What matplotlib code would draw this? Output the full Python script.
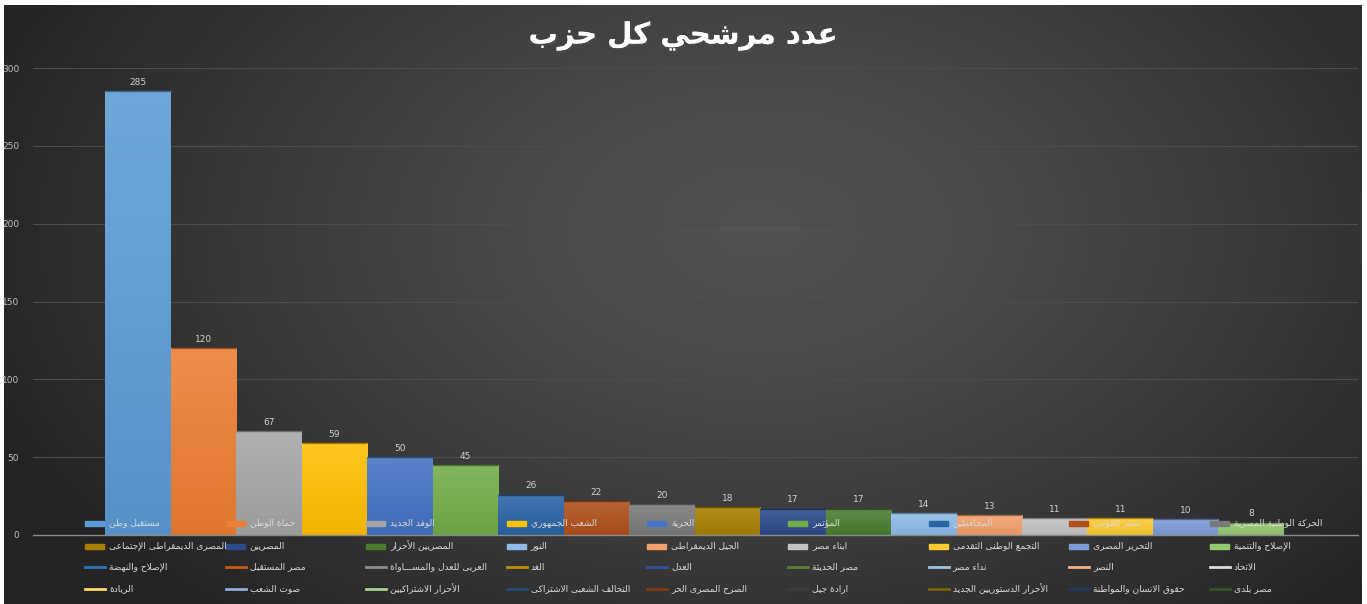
import numpy as np
import matplotlib
matplotlib.use("Agg")
import matplotlib.pyplot as plt
import matplotlib.patheffects as pe
from matplotlib.colors import to_rgb
from matplotlib.patches import Rectangle
from matplotlib.lines import Line2D

# ---- data -------------------------------------------------------------
title = "عدد مرشحي كل حزب"

bar_parties = ["مستقبل وطن", "حماة الوطن", "الوفد الجديد", "الشعب الجمهوري",
               "الحرية", "المؤتمر", "المحافظين", "مصر القومي",
               "الحركة الوطنية المصرية", "المصرى الديمقراطى الإجتماعى",
               "المصريين", "المصريين الأحرار", "النور", "الجيل الديمقراطى",
               "ابناء مصر", "التجمع الوطنى التقدمى", "التحرير المصرى",
               "الإصلاح والتنمية"]
candidates = [285, 120, 67, 59, 50, 45, 26, 22, 20, 18, 17, 17, 14, 13, 11, 11, 10, 8]

line_parties = ["الإصلاح والنهضة", "مصر المستقبل", "العربى للعدل والمســـاواة",
                "الغد", "العدل", "مصر الحديثة", "نداء مصر", "النصر", "الاتحاد",
                "الريادة", "صوت الشعب", "الأحرار الاشتراكيين",
                "التحالف الشعبى الاشتراكى", "الصرح المصرى الحر", "ارادة جيل",
                "الأحرار الدستوريين الجديد", "حقوق الانسان والمواطنة", "مصر بلدى"]

bar_colors = ["#5B9BD5", "#ED7D31", "#A5A5A5", "#FFC000", "#4472C4", "#70AD47",
              "#2A63A6", "#B0501A", "#7A7A7A", "#A87F00", "#2B4B8C", "#4B7D31",
              "#8DBBE8", "#F4A06C", "#C2C2C2", "#FFCB33", "#7B9CD8", "#94C86E"]
line_colors = ["#2E75B6", "#C55A11", "#8C8C8C", "#BF9000", "#2F5597", "#548235",
               "#9DC3E6", "#F4B183", "#DBDBDB", "#FFD966", "#8FAADC", "#A9D18E",
               "#1F4E79", "#843C0C", "#3B3B3B", "#7F6000", "#203864", "#375623"]

yticks = [0, 50, 100, 150, 200, 250, 300]

# ---- minimal arabic shaping (matplotlib has no bidi / shaping) --------
_FORMS = {
    0x0621: (0xFE80, 1), 0x0622: (0xFE81, 2), 0x0623: (0xFE83, 2),
    0x0624: (0xFE85, 2), 0x0625: (0xFE87, 2), 0x0626: (0xFE89, 4),
    0x0627: (0xFE8D, 2), 0x0628: (0xFE8F, 4), 0x0629: (0xFE93, 2),
    0x062A: (0xFE95, 4), 0x062B: (0xFE99, 4), 0x062C: (0xFE9D, 4),
    0x062D: (0xFEA1, 4), 0x062E: (0xFEA5, 4), 0x062F: (0xFEA9, 2),
    0x0630: (0xFEAB, 2), 0x0631: (0xFEAD, 2), 0x0632: (0xFEAF, 2),
    0x0633: (0xFEB1, 4), 0x0634: (0xFEB5, 4), 0x0635: (0xFEB9, 4),
    0x0636: (0xFEBD, 4), 0x0637: (0xFEC1, 4), 0x0638: (0xFEC5, 4),
    0x0639: (0xFEC9, 4), 0x063A: (0xFECD, 4), 0x0641: (0xFED1, 4),
    0x0642: (0xFED5, 4), 0x0643: (0xFED9, 4), 0x0644: (0xFEDD, 4),
    0x0645: (0xFEE1, 4), 0x0646: (0xFEE5, 4), 0x0647: (0xFEE9, 4),
    0x0648: (0xFEED, 2), 0x0649: (0xFEEF, 2), 0x064A: (0xFEF1, 4),
}
_LAM_ALEF = {"\u0622": 0xFEF5, "\u0623": 0xFEF7, "\u0625": 0xFEF9, "\u0627": 0xFEFB}


def ar(s):
    chars = []
    i = 0
    while i < len(s):
        if s[i] == "\u0644" and i + 1 < len(s) and s[i + 1] in _LAM_ALEF:
            chars.append(("LA", s[i + 1]))
            i += 2
        else:
            chars.append(s[i])
            i += 1

    def jt(t):
        if isinstance(t, tuple):
            return 2
        if t == "\u0640":
            return 4
        return _FORMS.get(ord(t), (0, 0))[1]

    out = []
    for k, t in enumerate(chars):
        j = jt(t)
        prv = jt(chars[k - 1]) if k > 0 else 0
        nxt = jt(chars[k + 1]) if k + 1 < len(chars) else 0
        jp = j in (2, 4) and prv == 4
        jn = j == 4 and nxt in (2, 4)
        if isinstance(t, tuple):
            out.append(chr(_LAM_ALEF[t[1]] + (1 if jp else 0)))
        elif j == 0 or t == "\u0640":
            out.append(t)
        else:
            base = _FORMS[ord(t)][0]
            if j == 1:
                out.append(chr(base))
            elif jp and jn:
                out.append(chr(base + 3))
            elif jn:
                out.append(chr(base + 2))
            elif jp:
                out.append(chr(base + 1))
            else:
                out.append(chr(base))
    return "".join(reversed(out))


def mix(c, other, t):
    c = np.array(to_rgb(c))
    return tuple(c + (np.array(other) - c) * t)


# ---- figure -----------------------------------------------------------
plt.rcParams["font.family"] = ["DejaVu Sans"]
W, H = 1367, 604
fig = plt.figure(figsize=(W / 100, H / 100), dpi=100, facecolor="white")

# dark radial background
bg = fig.add_axes([4 / W, 0, (1362 - 4) / W, (H - 5) / H])
gx, gy = np.meshgrid(np.linspace(4, 1362, 400), np.linspace(5, 604, 200))
r = np.sqrt(((gx - 760) / 820) ** 2 + ((gy - 230) / 520) ** 2)
lev = 0x52 - (0x52 - 0x24) * np.clip(r, 0, 1) ** 1.3
img = np.dstack([lev / 255] * 3)
bg.imshow(img, aspect="auto", extent=(0, 1, 0, 1), origin="upper")
bg.set_axis_off()

ax = fig.add_axes([33 / W, (H - 535) / H, (1358 - 33) / W, (535 - 68) / H])
ax.patch.set_alpha(0)

x = np.arange(len(candidates))
bars = ax.bar(x, candidates, width=1.0, color=bar_colors, linewidth=0, zorder=3)
for b, c in zip(bars, bar_colors):
    grad = np.array([mix(c, (0, 0, 0), 0.06), mix(c, (1, 1, 1), 0.12)])
    grad = np.linspace(grad[0], grad[1], 64)[:, None, :]
    im = ax.imshow(grad, extent=(b.get_x(), b.get_x() + b.get_width(), 0, b.get_height()),
                   origin="lower", aspect="auto", zorder=3.5)
    im.set_clip_path(b)
    ax.plot([b.get_x(), b.get_x() + b.get_width()], [b.get_height()] * 2,
            color=mix(c, (0, 0, 0), 0.35), lw=1, zorder=4, solid_capstyle="butt")
    ax.annotate(str(int(b.get_height())), (b.get_x() + b.get_width() / 2, b.get_height()),
                xytext=(0, 3), textcoords="offset points", ha="center", va="bottom",
                fontsize=6.5, color="#d0d0d0", zorder=5)

ax.set_xlim(-1.6, 18.63)
ax.set_ylim(0, 300)
ax.set_yticks(yticks)
ax.set_yticklabels([str(v) for v in yticks], fontsize=6.5, color="#bfbfbf")
ax.tick_params(axis="y", length=0, pad=10)
ax.set_xticks([])
ax.grid(axis="y", color="#4c4c4c", lw=0.8, zorder=0)
for s in ["top", "right", "left"]:
    ax.spines[s].set_visible(False)
ax.spines["bottom"].set_color("#8a8a8a")
ax.spines["bottom"].set_linewidth(1)
ax.spines["bottom"].set_zorder(6)

# title
fig.text(683 / W, 1 - 36 / H, ar(title), ha="center", va="center", fontsize=21,
         fontweight="bold", color="white",
         path_effects=[pe.withSimplePatchShadow(offset=(1.5, -1.5), alpha=0.6),
                       pe.Normal()])

# legend: 9 columns, filled row by row
names = bar_parties + line_parties
cols = bar_colors + line_colors
is_bar = [True] * len(bar_parties) + [False] * len(line_parties)
row_y = [523, 546, 567, 589]
for k, (nm, c, isb) in enumerate(zip(names, cols, is_bar)):
    rr, cc = divmod(k, 9)
    x0 = 85 + cc * 140.6
    yc = row_y[rr]
    if isb:
        fig.patches.append(Rectangle((x0 / W, 1 - (yc + 2.5) / H), 19 / W, 5 / H,
                                     transform=fig.transFigure, color=c, zorder=7))
    else:
        fig.lines.append(Line2D([x0 / W, (x0 + 20) / W], [1 - yc / H] * 2,
                                transform=fig.transFigure, color=c, lw=2, zorder=7))
    fig.text((x0 + 24) / W, 1 - yc / H, ar(nm), ha="left", va="center",
             fontsize=6.5, color="#d9d9d9", zorder=8)

fig.savefig("out.png", dpi=100, facecolor="white")
